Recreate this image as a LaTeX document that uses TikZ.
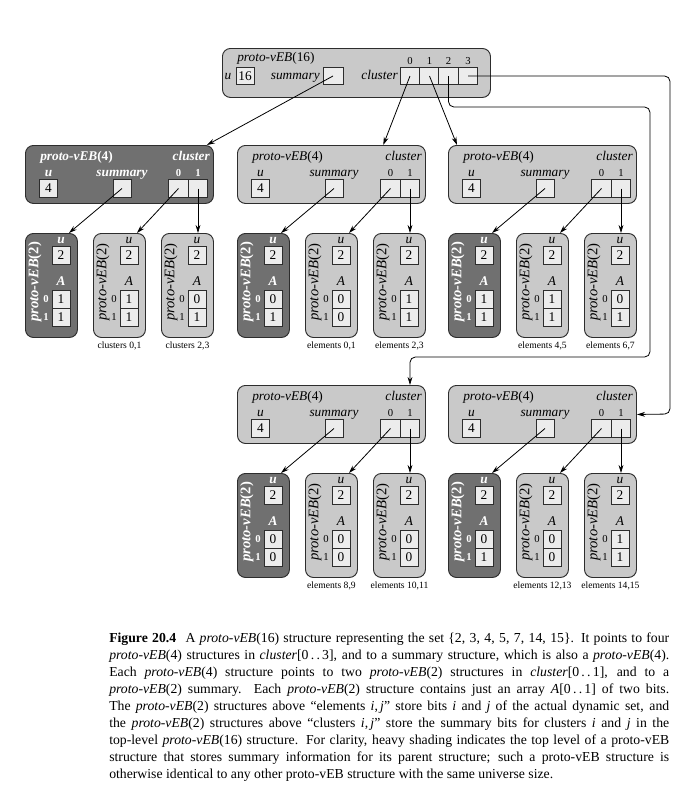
\documentclass[tikz,border=0pt]{standalone}
\usepackage{fontspec}
\setmainfont{Liberation Serif}
\usetikzlibrary{positioning, arrows.meta, calc}
\definecolor{vebLight}{RGB}{201,201,201}
\definecolor{vebDark}{RGB}{112,112,112}
\definecolor{vebCell}{RGB}{236,236,236}
\definecolor{vebLine}{RGB}{45,45,45}
\tikzset{
  >={Stealth[length=6pt, width=3.6pt]},
  veb box/.style={draw=vebLine, rounded corners=6pt, line width=0.7pt,
    inner sep=0pt, anchor=north west},
  veb fill light/.style={fill=vebLight},
  veb fill dark/.style={fill=vebDark},
  veb cell/.style={draw=vebLine, fill=vebCell, line width=0.6pt,
    minimum width=13.5pt, minimum height=13.5pt, inner sep=0pt},
  veb txt light/.style={font=\itshape, inner sep=0pt, text height=7pt, text depth=2pt},
  veb txt dark/.style={font=\bfseries\itshape, text=white, inner sep=0pt,
    text height=7pt, text depth=2pt},
  veb rot light/.style={veb txt light, rotate=90, font=\fontsize{11}{12}\selectfont\itshape},
  veb rot dark/.style={veb txt dark, rotate=90, font=\fontsize{11}{12}\selectfont\bfseries\itshape},
  veb idx light/.style={font=\fontsize{8}{9}\selectfont, inner sep=0pt},
  veb idx dark/.style={font=\fontsize{8}{9}\selectfont\bfseries, text=white, inner sep=0pt},
  veb ptr/.style={draw=black, ->, line width=0.6pt},
  veb note/.style={font=\fontsize{7.2}{8}\selectfont, inner sep=0.5pt},
  veb caption/.style={text width=420pt, align=justify, inner sep=0pt,
    font=\fontsize{10.3}{12.75}\selectfont},
}
% proto-vEB(2): name, x, y, shade, A[0], A[1]
\newcommand{\vebtwo}[6]{%
  \begin{scope}[shift={(#2,#3)}]
    \node[veb box, veb fill #4, minimum width=39pt, minimum height=78pt] (#1) at (0,0) {};
    \node[veb rot #4] (#1-t) at (10,49) {proto-vEB\textup{(2)}};
    \node[veb txt #4] (#1-ul) at (36,7) {u};
    \node[veb cell] (#1-u) at (36,22) {2};
    \node[veb txt #4] (#1-Al) at (36,49) {A};
    \node[veb cell] (#1-a0) at (36,66) {#5};
    \node[veb cell] (#1-a1) at (36,84) {#6};
    \node[veb idx #4] (#1-i0) at (21,66) {0};
    \node[veb idx #4] (#1-i1) at (21,84) {1};
    \coordinate (#1-in) at (44,0);
  \end{scope}}
% proto-vEB(4) with its summary and two clusters
\newcommand{\vebfour}[9]{%
  \begin{scope}[shift={(#2)}]
    \node[veb box, veb fill #3, minimum width=141pt, minimum height=43.5pt] (#1) at (0,0) {};
    \node[veb txt #3, anchor=west] (#1-t) at (15,12) {proto-vEB\textup{(4)}};
    \node[veb txt #3, anchor=east] (#1-clt) at (185,12) {cluster};
    \node[veb txt #3] (#1-ul) at (23.5,28) {u};
    \node[veb txt #3] (#1-sl) at (97,28) {summary};
    \node[veb idx #3] (#1-i0) at (153.5,28) {0};
    \node[veb idx #3] (#1-i1) at (173,28) {1};
    \node[veb cell] (#1-u) at (23.5,43.5) {4};
    \node[veb cell] (#1-s) at (97,43.5) {};
    \node[veb cell, minimum width=14.6pt] (#1-c0) at (153.5,43.5) {};
    \node[veb cell, minimum width=14.6pt] (#1-c1) at (173,43.5) {};
    \vebtwo{#1-S}{0}{88}{dark}{#4}{#5}
    \vebtwo{#1-C0}{68}{88}{light}{#6}{#7}
    \vebtwo{#1-C1}{136}{88}{light}{#8}{#9}
    \draw[veb ptr] (#1-s.center) -- (#1-S-in);
    \draw[veb ptr] (#1-c0.center) -- (#1-C0-in);
    \draw[veb ptr] (#1-c1.center) -- (#1-c1.center |- #1-C1.north);
  \end{scope}}

\begin{document}
\begin{tikzpicture}[x=0.75pt, y=-0.75pt]
 \useasboundingbox (0,0) rectangle (683,811);
 % top level proto-vEB(16)
 \node[veb box, veb fill light, minimum width=201pt, minimum height=36.75pt] (top) at (222,48) {};
 \node[veb txt light, anchor=west] (top-t) at (237,58) {proto-vEB\textup{(16)}};
 \node[veb txt light] (top-ul) at (228,76) {u};
 \node[veb cell, minimum height=12.75pt] (top-u) at (245,76) {16};
 \node[veb txt light, anchor=east] (top-sl) at (320,76) {summary};
 \node[veb cell, minimum width=15pt, minimum height=12.75pt] (top-s) at (333,76) {};
 \node[veb txt light, anchor=east] (top-clt) at (398,76) {cluster};
 \foreach \k/\xx in {0/410, 1/429.5, 2/448.5, 3/468} {
   \node[veb cell, minimum width=14.6pt, minimum height=12.75pt] (top-c\k) at (\xx,76) {};
   \node[veb idx light] (top-i\k) at (\xx,61) {\k};
 }
 % second level
 \vebfour{A}{25,145}{dark}{1}{1}{1}{1}{0}{1}
 \vebfour{B}{237,145}{light}{0}{1}{0}{0}{1}{1}
 \vebfour{C}{448,145}{light}{1}{1}{1}{1}{0}{1}
 \vebfour{D}{237,385}{light}{0}{0}{0}{0}{0}{0}
 \vebfour{E}{448,385}{light}{0}{1}{0}{0}{1}{1}
 \node[veb note, below=2.5pt of A-C0] (A-n0) {clusters 0,1};
 \node[veb note, below=2.5pt of A-C1] (A-n1) {clusters 2,3};
 \node[veb note, below=2.5pt of B-C0] (B-n0) {elements 0,1};
 \node[veb note, below=2.5pt of B-C1] (B-n1) {elements 2,3};
 \node[veb note, below=2.5pt of C-C0] (C-n0) {elements 4,5};
 \node[veb note, below=2.5pt of C-C1] (C-n1) {elements 6,7};
 \node[veb note, below=2.5pt of D-C0] (D-n0) {elements 8,9};
 \node[veb note, below=2.5pt of D-C1] (D-n1) {elements 10,11};
 \node[veb note, below=2.5pt of E-C0] (E-n0) {elements 12,13};
 \node[veb note, below=2.5pt of E-C1] (E-n1) {elements 14,15};
 % pointers from the top level
 \coordinate (bend2a) at (650,107);
 \coordinate (bend2b) at (650,357);
 \coordinate (bend3) at (670,414);
 \draw[veb ptr] (top-s.center) -- ([xshift=-5.25pt]A.north east);
 \draw[veb ptr] (top-c0.center) -- ([xshift=-32pt]B.north east);
 \draw[veb ptr] (top-c1.center) -- ([xshift=6.75pt]C.north west);
 \draw[veb ptr, rounded corners=4pt] (top-c2.center) |- (bend2a) -- (bend2b) -| (D-c1.center |- D.north);
 \draw[veb ptr, rounded corners=4pt] (top-c3.center) -| (bend3) -- (E.east);
 % caption
 \node[veb caption, anchor=north west] (caption) at (109,633) {\textbf{Figure 20.4}\hspace{7pt}A \textit{proto-vEB}(16) structure representing the set \{2, 3, 4, 5, 7, 14, 15\}. It points to four\linebreak
 \textit{proto-vEB}(4) structures in \textit{cluster}[0\,.\,.\,3], and to a summary structure, which is also a \textit{proto-vEB}(4).\linebreak
 Each \textit{proto-vEB}(4) structure points to two \textit{proto-vEB}(2) structures in \textit{cluster}[0\,.\,.\,1], and to a\linebreak
 \textit{proto-vEB}(2) summary. Each \textit{proto-vEB}(2) structure contains just an array \textit{A}[0\,.\,.\,1] of two bits.\linebreak
 The \textit{proto-vEB}(2) structures above “elements \textit{i},\,\textit{j}” store bits \textit{i} and \textit{j} of the actual dynamic set, and\linebreak
 the \textit{proto-vEB}(2) structures above “clusters \textit{i},\,\textit{j}” store the summary bits for clusters \textit{i} and \textit{j} in the\linebreak
 top-level \textit{proto-vEB}(16) structure. For clarity, heavy shading indicates the top level of a proto-vEB\linebreak
 structure that stores summary information for its parent structure; such a proto-vEB structure is\linebreak
 otherwise identical to any other proto-vEB structure with the same universe size.};
\end{tikzpicture}
\end{document}
